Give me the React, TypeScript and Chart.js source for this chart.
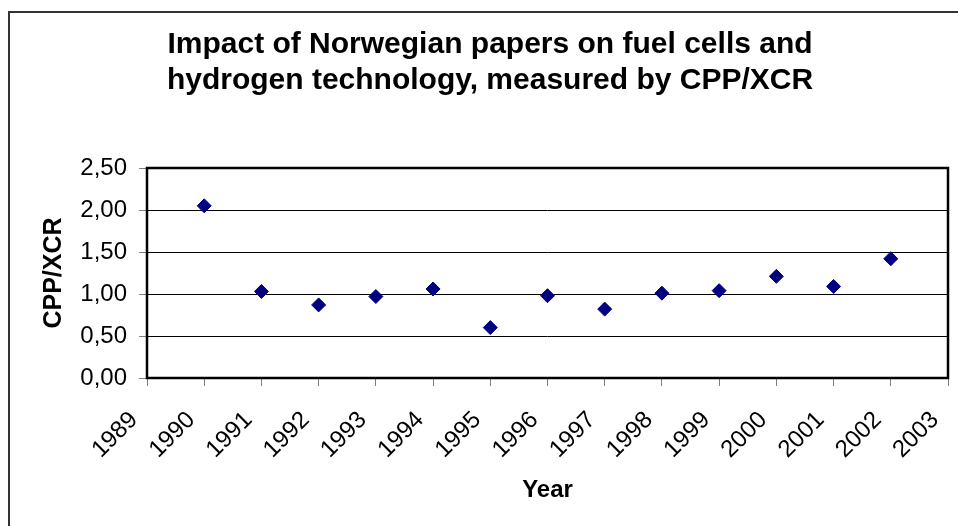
import React, { useEffect, useRef } from "react";
import { Chart, registerables } from "chart.js";

Chart.register(...registerables);

const titleLines = [
  "Impact of Norwegian papers on fuel cells and",
  "hydrogen technology, measured by CPP/XCR",
];
const years = [1990, 1991, 1992, 1993, 1994, 1995, 1996, 1997, 1998, 1999, 2000, 2001, 2002];
const cppXcr = [2.05, 1.03, 0.87, 0.97, 1.06, 0.6, 0.98, 0.82, 1.01, 1.04, 1.21, 1.09, 1.42];
const xTickLabels = ["1989", "1990", "1991", "1992", "1993", "1994", "1995", "1996", "1997", "1998", "1999", "2000", "2001", "2002", "2003"];
const yTickLabels = ["0,00", "0,50", "1,00", "1,50", "2,00", "2,50"];

const FONT = "'Liberation Sans', Arial, sans-serif";

const plotBorder = {
  id: "plotBorder",
  beforeDatasetsDraw(chart: any) {
    const { ctx, chartArea } = chart;
    ctx.save();
    ctx.strokeStyle = "#000";
    ctx.lineWidth = 2.5;
    ctx.strokeRect(chartArea.left, chartArea.top, chartArea.right - chartArea.left, chartArea.bottom - chartArea.top);
    ctx.restore();
  },
};

export default function App() {
  const ref = useRef<HTMLCanvasElement | null>(null);
  useEffect(() => {
    if (!ref.current) return;
    const chart = new Chart(ref.current, {
      type: "scatter",
      data: {
        datasets: [
          {
            label: "CPP/XCR",
            data: years.map((y, i) => ({ x: y, y: cppXcr[i] })),
            pointStyle: "rectRot",
            pointRadius: 7,
            pointBorderWidth: 1,
            backgroundColor: "#000080",
            borderColor: "#000080",
          },
        ],
      },
      options: {
        responsive: false,
        animation: false,
        layout: { padding: { left: 52, right: 52, top: 0, bottom: 0 } },
        plugins: {
          legend: { display: false },
          tooltip: { enabled: false },
          title: {
            display: true,
            text: titleLines,
            color: "#000",
            font: { family: FONT, size: 30, weight: "bold", lineHeight: 36 / 30 },
            padding: { top: 27, bottom: 69 },
          },
        },
        scales: {
          x: {
            type: "linear",
            min: 1989,
            max: 2003,
            afterFit: (s: any) => {
              s.height = 148;
            },
            ticks: {
              stepSize: 1,
              autoSkip: false,
              maxRotation: 45,
              minRotation: 45,
              color: "#000",
              padding: 20,
              labelOffset: -13,
              font: { family: FONT, size: 24 },
              callback: (_v: any, i: number) => xTickLabels[i],
            },
            grid: {
              drawOnChartArea: false,
              drawTicks: true,
              tickLength: 8,
              tickColor: "#808080",
            },
            border: { display: false },
            title: {
              display: true,
              text: "Year",
              color: "#000",
              font: { family: FONT, size: 24, weight: "bold" },
              padding: { top: 0, bottom: 21 },
            },
          },
          y: {
            min: 0,
            max: 2.5,
            afterFit: (s: any) => {
              s.width = 115;
            },
            ticks: {
              stepSize: 0.5,
              color: "#000",
              padding: 12,
              font: { family: FONT, size: 24 },
              callback: (_v: any, i: number) => yTickLabels[i],
            },
            grid: {
              color: "#000",
              lineWidth: 1,
              drawTicks: true,
              tickLength: 8,
              tickColor: "#808080",
            },
            border: { display: false },
            title: {
              display: true,
              text: "CPP/XCR",
              color: "#000",
              font: { family: FONT, size: 25, weight: "bold" },
              padding: { top: 7, bottom: 0 },
            },
          },
        },
      },
      plugins: [plotBorder],
    });
    return () => chart.destroy();
  }, []);

  return (
    <div style={{ position: "fixed", left: 0, top: 0, width: 958, height: 526, overflow: "hidden", background: "#fff" }}>
      <div
        style={{
          position: "absolute",
          left: 8,
          top: 11,
          width: 2000,
          height: 2000,
          borderLeft: "2px solid #333",
          borderTop: "2px solid #333",
        }}
      />
      <canvas ref={ref} width={1020} height={526} style={{ position: "absolute", left: -20, top: 0, width: 1020, height: 526 }} />
    </div>
  );
}
